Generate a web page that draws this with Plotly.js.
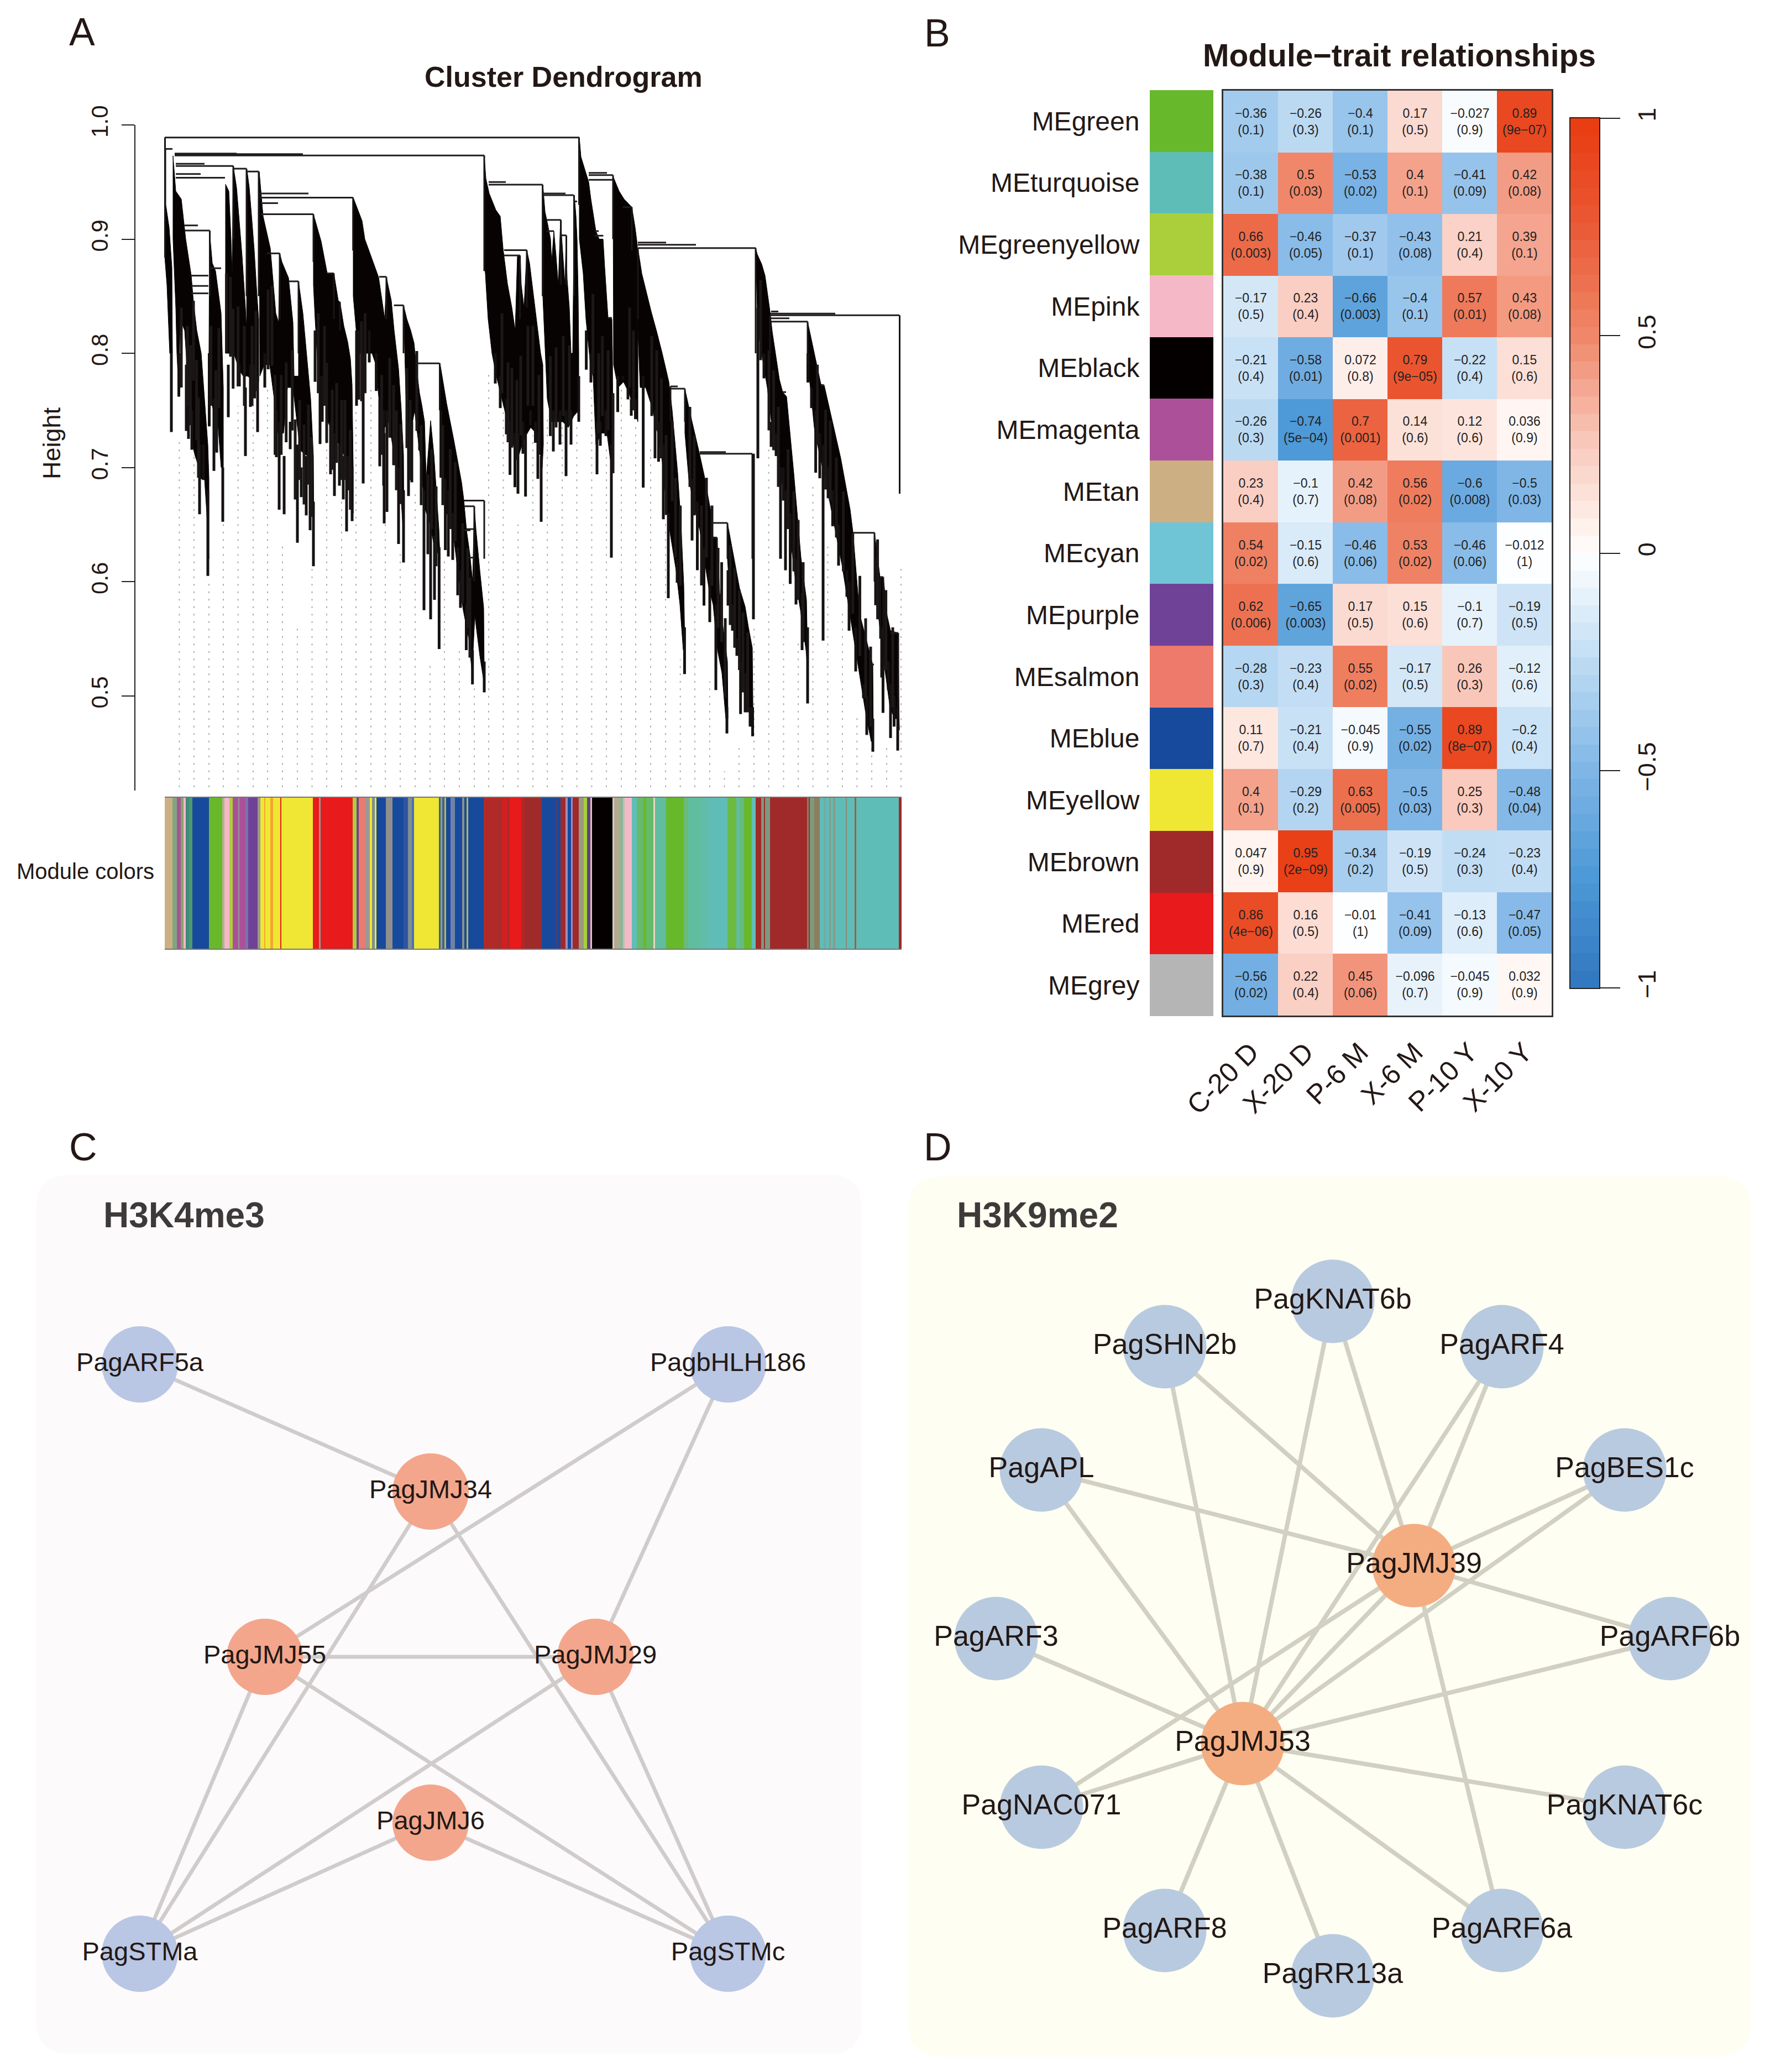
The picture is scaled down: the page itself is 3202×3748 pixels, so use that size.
<!DOCTYPE html>
<html><head><meta charset="utf-8">
<script src="https://cdn.plot.ly/plotly-3.0.1.min.js"></script>
<style>html,body{margin:0;padding:0;background:#fff}#chart{width:3202px;height:3748px}</style>
</head><body><div id="chart"></div>
<script>
const FONT='"Liberation Sans", Arial, sans-serif', INK='#231815';
// ---------- A: dendrogram (leaf rank, merge height)
const dendroWedges=[
[[0,.979],[2,.979],[2,.93],[8,.91],[13,.875],[14,.82],[14,.80],[9,.80],[4,.86],[0,.885]],
[[15,.973],[20,.942],[30,.935],[38,.90],[48,.868],[52,.845],[58,.82],[66,.80],[72,.76],[78,.72],[80,.69],[80,.62],[76,.66],[72,.69],[66,.69],[62,.70],[55,.71],[50,.72],[45,.77],[40,.79],[36,.82],[28,.83],[25,.77],[22,.80],[20,.84],[15,.90]],
[[81,.9075],[86,.879],[92,.872],[102,.835],[106,.77],[106,.70],[102,.70],[96,.74],[88,.75],[83,.76],[80,.80]],
[[110,.948],[116,.942],[120,.90],[122,.87],[124,.964],[130,.945],[135,.915],[140,.885],[146,.84],[148,.82],[149,.96],[153,.945],[158,.915],[162,.89],[167,.85],[170,.83],[170,.775],[162,.775],[150,.78],[142,.78],[135,.785],[125,.80],[115,.80],[110,.80]],
[[171,.959],[178,.92],[191,.892],[201,.835],[206,.827],[208,.8875],[212,.88],[224,.866],[232,.827],[234,.78],[242,.78],[242,.863],[250,.835],[255,.809],[260,.781],[264,.76],[269,.71],[270,.62],[266,.68],[258,.71],[245,.715],[237,.75],[232,.77],[222,.77],[215,.73],[205,.73],[198,.76],[190,.79],[180,.79],[172,.78]],
[[269,.9218],[283,.898],[294,.87],[306,.87],[314,.846],[317,.845],[324,.824],[331,.81],[336,.795],[339,.772],[341,.70],[341,.66],[335,.70],[325,.71],[315,.72],[305,.73],[295,.74],[288,.77],[278,.78],[272,.83],[269,.86]],
[[341,.9363],[357,.916],[362,.90],[375,.883],[387,.8665],[392,.85],[398,.83],[401,.8665],[410,.846],[415,.82],[423,.7865],[428,.75],[432,.711],[433,.63],[428,.67],[420,.70],[412,.72],[405,.74],[398,.735],[390,.745],[382,.79],[375,.80],[362,.80],[350,.80],[341,.85]],
[[432,.842],[438,.83],[445,.82],[451,.809],[456,.785],[461,.765],[465,.755],[470,.74],[473,.69],[481,.741],[487,.711],[493,.67],[496,.646],[498,.62],[494,.625],[488,.63],[480,.65],[470,.665],[462,.71],[452,.75],[445,.73],[438,.73]],
[[498,.7912],[510,.756],[523,.724],[537,.687],[541,.672],[546,.645],[552,.624],[557,.60],[560,.666],[563,.646],[570,.61],[577,.577],[578,.52],[578,.51],[570,.535],[561,.57],[556,.52],[550,.55],[540,.575],[530,.61],[520,.65],[510,.66],[503,.70],[498,.75]],
[[578,.9733],[581,.953],[587,.94],[594,.931],[599,.9255],[607,.92],[612,.892],[620,.861],[628,.84],[634,.82],[638,.885],[643,.8857],[645,.86],[650,.84],[655,.8903],[660,.879],[666,.855],[676,.8143],[680,.80],[684,.79],[685,.72],[683,.70],[680,.71],[672,.73],[662,.735],[650,.725],[640,.71],[630,.72],[620,.74],[610,.76],[600,.78],[592,.80],[585,.83],[580,.87],[578,.88]],
[[684,.9477],[688,.9237],[692,.915],[698,.90],[700,.88],[704,.907],[708,.885],[712,.86],[716,.9168],[720,.89],[724,.86],[726,.9],[728,.865],[732,.84],[735,.80],[738,.80],[741,.9385],[744,.92],[746,.90],[748,.85],[749,.80],[749,.75],[740,.745],[730,.735],[720,.74],[710,.74],[700,.74],[692,.76],[684,.85]],
[[750,.989],[753,.972],[760,.961],[767,.95],[771,.935],[776,.92],[780,.907],[786,.90],[793,.90],[796,.875],[802,.831],[809,.83],[810,.80],[811,.72],[808,.70],[800,.73],[790,.73],[780,.72],[775,.78],[770,.79],[762,.83],[757,.87],[750,.90]],
[[811,.955],[822,.942],[831,.935],[845,.928],[851,.91],[855,.895],[856,.80],[856,.74],[850,.75],[840,.765],[830,.775],[820,.77],[812,.79]],
[[856,.892],[863,.87],[880,.8366],[890,.819],[900,.80],[912,.775],[918,.75],[924,.715],[928,.695],[934,.65],[939,.597],[941,.54],[938,.54],[932,.58],[925,.61],[915,.64],[908,.665],[900,.705],[890,.735],[880,.755],[870,.77],[860,.77],[856,.82]],
[[941,.7688],[954,.74],[967,.713],[976,.693],[988,.661],[990,.651],[992,.638],[999,.6386],[1004,.59],[1010,.56],[1018,.53],[1019,.48],[1015,.48],[1008,.52],[1000,.54],[992,.58],[984,.595],[976,.62],[968,.645],[958,.665],[948,.69],[941,.73]],
[[1018,.6514],[1030,.62],[1040,.594],[1050,.578],[1056,.56],[1063,.542],[1064.5,.47],[1060,.48],[1052,.50],[1045,.51],[1038,.535],[1030,.56],[1022,.59],[1018,.62]],
[[1069,.8922],[1072,.8866],[1080,.878],[1086,.868],[1095,.8366],[1099,.819],[1112,.777],[1118,.766],[1125,.762],[1138,.695],[1151,.621],[1161,.584],[1163.5,.52],[1160,.54],[1150,.575],[1140,.605],[1130,.645],[1120,.675],[1110,.71],[1100,.73],[1090,.77],[1080,.80],[1073,.82]],
[[1163,.8277],[1175,.80],[1187,.773],[1193,.772],[1208,.74],[1223,.708],[1240,.663],[1245,.6435],[1257,.572],[1268,.551],[1281,.527],[1282,.46],[1278,.46],[1268,.485],[1255,.525],[1245,.555],[1235,.585],[1225,.615],[1215,.64],[1205,.665],[1195,.69],[1185,.71],[1175,.735],[1168,.77],[1163,.79]],
[[1284,.6428],[1290,.62],[1294,.604],[1300,.604],[1307,.57],[1313,.557],[1327,.555],[1328,.50],[1329,.47],[1328,.48],[1320,.48],[1312,.49],[1305,.515],[1298,.54],[1290,.575],[1284,.62]]
];
// leaf, height at top, height at tip
const dendroDrips=[[12,.80,.731],[25.5,.80,.762],[39,.79,.732],[43,.78,.725],[49,.75,.7155],[63,.72,.659],[70,.72,.689],[78,.68,.605],
[80.5,.80,.736],[89,.76,.697],[94,.76,.713],[105,.70,.6524],[115,.79,.744],[135,.79,.771],[146,.77,.71],[155,.79,.753],[162.5,.79,.7605],[168,.78,.731],
[181,.80,.77],[202,.75,.709],[207,.74,.663],[216,.71,.659],[227,.74,.716],[240,.72,.634],[247,.70,.674],[256,.71,.658],[263,.70,.645],[269,.67,.6135],
[272,.82,.775],[281,.78,.7205],[285,.78,.74],[300,.74,.694],[307,.73,.675],[316,.72,.684],[323,.71,.672],[329,.71,.644],[333.5,.71,.68],[339,.70,.653],
[347,.82,.754],[351,.82,.7594],[359,.80,.686],[370,.82,.792],[382.6,.80,.767],[389,.76,.701],[396,.75,.684],[397,.73,.651],[402,.75,.661],[407,.76,.743],[417,.73,.702],[423,.70,.633],[432,.68,.6167],
[441,.74,.675],[447,.74,.687],[461,.73,.715],[469,.68,.575],[481,.66,.567],[488,.64,.584],[496.4,.63,.541],
[499.6,.75,.691],[507.6,.69,.6276],[513,.68,.622],[521,.66,.619],[530,.63,.588],[535,.61,.577],[545.5,.58,.54],[556.7,.54,.51],[578,.53,.503],
[598,.80,.7735],[607,.78,.752],[618,.76,.729],[624.6,.74,.6935],[633.5,.73,.6827],[639,.73,.677],[648,.74,.712],[652.7,.73,.6745],[661.6,.75,.737],[670.5,.74,.7216],[675,.73,.69],[681,.71,.6524],
[703,.75,.714],[715,.75,.72],[726,.75,.6924],[735,.75,.72],[749,.78,.74],
[762.6,.82,.7856],[771,.80,.7744],[782,.74,.694],[788,.74,.719],[798,.75,.7275],[808,.72,.621],
[819.5,.78,.7485],[829,.78,.777],[838,.77,.7596],[844,.76,.7453],[851.5,.76,.7423],
[865.6,.78,.6823],[887,.75,.708],[893.4,.74,.705],[902,.72,.6546],[911,.66,.5855],[927,.62,.599],[940.4,.56,.519],
[954,.69,.636],[963.5,.67,.61],[975.5,.63,.579],[986,.61,.5645],[997,.58,.505],[1017,.49,.467],
[1019,.61,.579],[1027,.58,.557],[1035,.55,.535],[1041.7,.53,.484],[1050,.52,.4855],[1059,.49,.473],[1063.5,.49,.4645],[1065,.712,.567],
[1073,.84,.708],[1084,.80,.778],[1097,.74,.718],[1106,.73,.71],[1114,.70,.62],[1119,.70,.671],[1123,.68,.61],[1131.5,.66,.598],[1142,.62,.58],[1153,.59,.54],[1163,.56,.4933],
[1163.5,.80,.7744],[1170,.77,.752],[1177.6,.75,.6954],[1185,.73,.6905],[1191,.72,.5484],[1200,.70,.673],[1208.3,.68,.6485],[1219,.65,.614],[1234,.61,.5867],[1238,.60,.557],[1250,.56,.5213],[1264,.51,.498],[1270,.50,.4657],[1281,.48,.451],
[1286,.62,.5793],[1297,.56,.516],[1299.4,.55,.485],[1309,.53,.505],[1313,.51,.463],[1319.5,.50,.473],[1326,.49,.452]];
const dendroDripsFine=[[30,.82,.77],[41,.79,.754],[46.5,.77,.737],[52,.80,.776],[57.6,.74,.724],[61,.72,.691],[83.5,.78,.754],[92.4,.76,.715],[98,.78,.752],[111.6,.82,.80],[119,.82,.797],[123.7,.82,.769],[132.6,.80,.771],[144,.79,.754],[158,.79,.754],[165,.79,.767],[187,.80,.786],[194,.80,.789],[199.6,.76,.711],[210.7,.75,.711],[219.7,.76,.722],[230.8,.78,.7324],[236,.74,.672],[244,.72,.689],[252,.72,.6676],[260,.71,.685],[265.6,.69,.6567],[277.7,.80,.765],[289,.78,.754],[293,.76,.7216],[303,.74,.698],[311,.74,.704],[320,.73,.689],[326,.72,.689],[335.7,.71,.663],[356,.81,.758],[362.5,.81,.765],[392.4,.75,.711],[407,.75,.726],[414,.73,.702],[419,.71,.68],[427,.69,.668],[438,.74,.717],[444,.74,.689],[456,.76,.732],[464,.72,.667],[476,.67,.624],[483,.66,.646],[491,.64,.6135],[503,.71,.667],[516.5,.66,.646],[525.5,.66,.635],[539,.60,.581],[548,.58,.5595],[552,.56,.5335],[610,.77,.765],[621,.75,.722],[628,.74,.7173],[637,.72,.7065],[644,.74,.728],[657,.74,.754],[666,.74,.754],[677,.72,.711],[697.6,.76,.7275],[708,.75,.735],[721,.75,.745],[732,.75,.737],[774.6,.80,.782],[785,.74,.73],[791.7,.74,.745],[802,.74,.7325],[811,.72,.695],[841,.78,.77],[848,.77,.75],[881,.76,.745],[890,.74,.7325],[898.5,.72,.708],[907,.67,.6584],[918,.65,.6707],[924,.62,.621],[932.7,.60,.5966],[950,.70,.683],[958,.67,.658],[971,.64,.5966],[980,.60,.621],[990,.59,.5966],[1001,.55,.5596],[1007.5,.53,.547],[1014,.50,.498],[1023,.58,.562],[1031,.56,.542],[1039.6,.53,.5225],[1046,.51,.503],[1054.5,.50,.4855],[1078,.81,.794],[1093,.76,.7325],[1101.5,.73,.715],[1110,.71,.683],[1127.5,.66,.646],[1138,.62,.609],[1146,.59,.584],[1155,.56,.547],[1180.6,.73,.72],[1195.6,.69,.6806],[1204,.67,.671],[1215,.64,.6386],[1227.6,.61,.609],[1244.7,.56,.572],[1257.5,.52,.535],[1268,.49,.4978],[1277,.47,.473],[1289.6,.58,.567],[1304.6,.52,.5225],[1317,.49,.49]];
const dendroStems=[[.5,.989,.884],[578,.9733,.872],[81.5,.9075,.85],[269,.9218,.88],[340.7,.9363,.89],[749.5,.989,.93],[124,.964,.9],[148,.9617,.85],[170,.9592,.85],[208,.8875,.83],[242,.863,.80],[306,.87,.83],[317,.845,.82],[401,.867,.83],[432,.842,.80],[497.5,.7912,.75],[578,.671,.62],[560,.666,.6],[655,.8903,.84],[642.7,.8857,.83],[683.6,.9477,.85],[716.7,.9168,.86],[726.5,.9033,.86],[740.5,.9385,.85],[811,.956,.90],[845,.928,.89],[856,.8922,.83],[1069,.8922,.80],[1063,.712,.62],[1095,.8333,.80],[1163,.8277,.79],[941,.769,.74],[915,.771,.74],[990,.651,.62],[999,.6386,.59],[1018,.6514,.62],[1245,.6428,.6],[1284,.6428,.6],[1294,.604,.55],[1300,.604,.55],[1327,.555,.48],[1329.5,.8333,.677]];
// from leaf, to leaf, merge height
const dendroMerges=[[0,750,.989],[0,14,.979],[18,578,.9733],[18,130,.975],[18,250,.9745],[20,72,.966],[20,124,.964],[20,109,.9537],[20,65,.957],[124,148,.9617],[149,170,.9592],[171,260,.94],[171,340.7,.9363],[174,269,.9218],[174,205,.9315],[36,81.5,.9075],[36,60,.912],[48,79,.868],[48,79,.859],[48,79,.8525],[82,102,.8745],[185,208,.8875],[224,242,.863],[294,306,.87],[388,401,.867],[414.6,432,.842],[454,497.3,.7912],[541,578,.671],[541,560,.666],[541,553,.645],[546,559,.646],[546,558,.621],[586,683.6,.9477],[586,617,.95],[614,655,.8903],[614,642.7,.8857],[684,740,.9385],[684,725,.94],[691,716.7,.9168],[691,704,.907],[717,726.5,.9033],[740,746,.933],[767,811,.956],[767,800,.958],[767,811,.952],[829,845,.928],[778,785,.907],[778,793.5,.903],[802,809,.831],[856,1069,.8922],[856,961,.895],[856,907,.897],[915,941,.769],[915,928,.771],[1095,1329,.8333],[1095,1213,.8347],[1097,1163,.8277],[1097,1130,.8306],[1097,1110,.8366],[968,1063,.712],[968,1015,.7135],[990,1018,.6514],[992,999,.6386],[1245,1284,.6428],[1118,1124,.766],[1187,1193,.772],[1294,1300,.604],[1313,1327,.555],[1279,1283,.5274]];
const guideLeaf=[26.4,53,80,106,132.6,160,186,213,240,266.5,293,320,346,373,399,426,453,480,506,533,560,586,612.5,639,666,692,719,745.5,772.4,799,826,852,879,906,932.7,959,986,1012.6,1039,1066,1092.6,1119.5,1146,1172.5,1199.4,1226,1252.4,1279,1306,1332];
const guideTop=[.724,.724,.603,.652,.754,.756,.769,.631,.562,.613,.7216,.67,.75,.771,.661,.624,.678,.531,.618,.544,.51,.784,.78,.65,.728,.745,.74,.737,.772,.718,.774,.737,.72,.651,.532,.6065,.5126,.434,.456,.562,.72,.6,.55,.684,.634,.574,.485,.458,.458,.614];
const moduleHex={tan:'#ccb083',magenta:'#ac5199',purple:'#6f4297',greenyellow:'#aacf3b',pink:'#f4b8c7',black:'#040000',blue:'#174a9c',yellow:'#efe733',red:'#e81a1c',brown:'#a02a2a',green:'#68b82c',turquoise:'#5fbdb8',grey:'#b5b5b5',cyan:'#6fc5d6',salmon:'#ee7a6b'};
const stripEnds=[14.7,21.8,28.9,34,38.1,44.2,49.9,80.5,104.4,108.5,117.7,122.8,133,135,146.3,151.4,168.2,173.3,180,182,191.2,196.3,209,211.6,268.7,278.9,282,340.2,347.3,351.4,362.1,371.3,374.9,380,383,400.4,412.6,432,440.2,447.3,451.4,496.3,499.3,502.4,506.5,509.5,517.7,524.9,538.1,542.2,546.3,549.3,576.9,602.4,610.6,619.8,623.8,645.3,651.4,682.5,709,710.6,716.7,724.9,729,735.1,738.2,749.3,758.5,764.7,769.8,772.8,810,813.6,823.4,828.8,832.4,844.9,853.8,866.3,870.8,884.1,886.8,907.3,939.5,947.5,969.8,984.1,1018.1,1034.6,1040.4,1048,1062.7,1068.9,1079.2,1084.1,1085.9,1095.7,1161.8,1165.4,1167.2,1175.2,1185,1192.1,1196.6,1202,1205.6,1209.1,1213.6,1232.3,1234.1,1248.4,1251.1,1327.9,1333];
const stripColors=['tan','#7fa77f','magenta','#82a86a','pink','#3f8a7a','#4f9a6a','blue','green','#b5b08f','pink','greenyellow','magenta','#999999','magenta','#7a72b0','purple','#9a9a8a','yellow','#f5a530','yellow','#f5a530','yellow','red','yellow','red','#999999','red','greenyellow','purple','salmon','#999999','yellow','#7f8f90','yellow','blue','#8f8f8f','blue','#2f55a0','#7f8f90','#4a70b8','yellow','#3a62a8','#a0a050','#3a62a8','#c0b840','blue','#6f82a8','blue','#8a8f90','blue','#c0b840','blue','#b22a28','#a82c2c','#d01f20','#b02828','red','#b02828','brown','blue','brown','blue','brown','#a08ac0','blue','#a08ac0','brown','#999a80','greenyellow','#55497a','pink','black','#cfcfc0','#b3ab8f','#8fb59a','#c0c0b0','pink','turquoise','#65bb6a','green','#65bb6a','#ecd5c5','#62bca0','green','#69bb78','#60bda0','#62bcaa','turquoise','#6cba40','#60bda0','#65bb80','green','turquoise','brown','#7d9a80','brown','#7d9a80','brown','#8c7e5f','brown','#7d9a80','#8c7e5f','turquoise','#78a8a0','turquoise','#8c9a88','turquoise','#8c9a88','turquoise','#8c8a78','turquoise','#a0603f','turquoise','brown'];
const heightTicks=[.5,.6,.7,.8,.9,1], heightLabels=['0.5','0.6','0.7','0.8','0.9','1.0'];
// ---------- B: module-trait
const moduleNames=['green','turquoise','greenyellow','pink','black','magenta','tan','cyan','purple','salmon','blue','yellow','brown','red','grey'];
const traitNames=['C-20 D','X-20 D','P-6 M','X-6 M','P-10 Y','X-10 Y'];
const corrValues=[
['-0.36','-0.26','-0.4','0.17','-0.027','0.89'],['-0.38','0.5','-0.53','0.4','-0.41','0.42'],['0.66','-0.46','-0.37','-0.43','0.21','0.39'],
['-0.17','0.23','-0.66','-0.4','0.57','0.43'],['-0.21','-0.58','0.072','0.79','-0.22','0.15'],['-0.26','-0.74','0.7','0.14','0.12','0.036'],
['0.23','-0.1','0.42','0.56','-0.6','-0.5'],['0.54','-0.15','-0.46','0.53','-0.46','-0.012'],['0.62','-0.65','0.17','0.15','-0.1','-0.19'],
['-0.28','-0.23','0.55','-0.17','0.26','-0.12'],['0.11','-0.21','-0.045','-0.55','0.89','-0.2'],['0.4','-0.29','0.63','-0.5','0.25','-0.48'],
['0.047','0.95','-0.34','-0.19','-0.24','-0.23'],['0.86','0.16','-0.01','-0.41','-0.13','-0.47'],['-0.56','0.22','0.45','-0.096','-0.045','0.032']];
const pValues=[
['0.1','0.3','0.1','0.5','0.9','9e-07'],['0.1','0.03','0.02','0.1','0.09','0.08'],['0.003','0.05','0.1','0.08','0.4','0.1'],
['0.5','0.4','0.003','0.1','0.01','0.08'],['0.4','0.01','0.8','9e-05','0.4','0.6'],['0.3','5e-04','0.001','0.6','0.6','0.9'],
['0.4','0.7','0.08','0.02','0.008','0.03'],['0.02','0.6','0.06','0.02','0.06','1'],['0.006','0.003','0.5','0.6','0.7','0.5'],
['0.3','0.4','0.02','0.5','0.3','0.6'],['0.7','0.4','0.9','0.02','8e-07','0.4'],['0.1','0.2','0.005','0.03','0.3','0.04'],
['0.9','2e-09','0.2','0.5','0.3','0.4'],['4e-06','0.5','1','0.09','0.6','0.05'],['0.02','0.4','0.06','0.7','0.9','0.9']];
const corrLevels=[-.98,-.94,-.9,-.86,-.82,-.78,-.74,-.7,-.66,-.62,-.58,-.54,-.5,-.46,-.42,-.38,-.34,-.3,-.26,-.22,-.18,-.14,-.1,-.06,-.02,.02,.06,.1,.14,.18,.22,.26,.3,.34,.38,.42,.46,.5,.54,.58,.62,.66,.7,.74,.78,.82,.86,.9,.94,.98];
const corrScale=[[0,'#3076c0'],[.125,'#4c98d6'],[.25,'#7fb6e6'],[.375,'#bedbf3'],[.475,'#f3f9fe'],[.5,'#ffffff'],[.525,'#fff3ee'],[.625,'#f9cabd'],[.75,'#f0876a'],[.875,'#ea5a35'],[1,'#e93a10']];
const barTicks=[-1,-.5,0,.5,1], barLabels=['−1','−0.5','0','0.5','1'];
// ---------- C / D: networks
const cNames=['PagARF5a','PagbHLH186','PagJMJ34','PagJMJ55','PagJMJ29','PagJMJ6','PagSTMa','PagSTMc'];
const cX=[187,1251,713,413,1011,713,187,1251], cY=[343,343,573,872,872,1172,1409,1409];
const cHubs=['PagJMJ34','PagJMJ55','PagJMJ29','PagJMJ6'];
const cEdges=[['PagARF5a','PagJMJ34'],['PagbHLH186','PagJMJ55'],['PagbHLH186','PagJMJ29'],['PagJMJ34','PagSTMa'],['PagJMJ34','PagSTMc'],['PagJMJ55','PagJMJ29'],['PagJMJ55','PagSTMa'],['PagJMJ55','PagSTMc'],['PagJMJ29','PagSTMa'],['PagJMJ29','PagSTMc'],['PagJMJ6','PagSTMa'],['PagJMJ6','PagSTMc']];
const dNames=['PagKNAT6b','PagSHN2b','PagARF4','PagAPL','PagBES1c','PagJMJ39','PagARF3','PagARF6b','PagJMJ53','PagNAC071','PagKNAT6c','PagARF8','PagARF6a','PagRR13a'];
const dX=[768,464,1074,241,1296,915,159,1378,605,241,1296,464,1074,768], dY=[226,308,308,531,531,704,836,836,1026,1141,1141,1364,1364,1446];
const dHubs=['PagJMJ39','PagJMJ53'];
const dEdges=[['PagJMJ53','PagSHN2b'],['PagJMJ53','PagKNAT6b'],['PagJMJ53','PagARF4'],['PagJMJ53','PagAPL'],['PagJMJ53','PagBES1c'],['PagJMJ53','PagJMJ39'],['PagJMJ53','PagARF3'],['PagJMJ53','PagARF6b'],['PagJMJ53','PagNAC071'],['PagJMJ53','PagKNAT6c'],['PagJMJ53','PagARF8'],['PagJMJ53','PagRR13a'],['PagJMJ53','PagARF6a'],['PagJMJ39','PagSHN2b'],['PagJMJ39','PagKNAT6b'],['PagJMJ39','PagARF4'],['PagJMJ39','PagAPL'],['PagJMJ39','PagBES1c'],['PagJMJ39','PagARF6b'],['PagJMJ39','PagNAC071'],['PagJMJ39','PagARF6a']];

const W=3202,H=3748;
const domX=(a,b)=>[a/W,b/W], domY=(a,b)=>[1-b/H,1-a/H];
const hide={visible:false,fixedrange:true};
const data=[];
const gx=[],gy=[];guideLeaf.forEach((l,i)=>{gx.push(l,l,null);gy.push(.42,guideTop[i],null)});
data.push({type:'scatter',mode:'lines',x:gx,y:gy,xaxis:'x',yaxis:'y',line:{color:'#a8a8a8',width:2,dash:'3px,10.5px'},hoverinfo:'skip'});
dendroWedges.forEach(w=>data.push({type:'scatter',mode:'lines',x:w.map(p=>p[0]).concat(w[0][0]),y:w.map(p=>p[1]).concat(w[0][1]),fill:'toself',fillcolor:'#070303',line:{color:'#070303',width:1},xaxis:'x',yaxis:'y',hoverinfo:'skip'}));
const seg=(list,w,c)=>{const x=[],y=[];list.forEach(d=>{x.push(d[0],d[0],null);y.push(d[1],Math.min(d[1],d[2]),null)});data.push({type:'scatter',mode:'lines',x,y,line:{color:c,width:w},xaxis:'x',yaxis:'y',hoverinfo:'skip'})};
seg(dendroDrips,5,'#151111');
seg(dendroDripsFine.map(d=>[d[0],Math.max(d[1],d[2]+.07),d[2]]),5,'#1c1818');
seg(dendroStems,3,'#1a1616');
const mx=[],my=[];dendroMerges.forEach(m=>{mx.push(m[0],m[1],null);my.push(m[2],m[2],null)});
data.push({type:'scatter',mode:'lines',x:mx,y:my,line:{color:'#221e1e',width:3},xaxis:'x',yaxis:'y',hoverinfo:'skip'});
const stripStart=[0].concat(stripEnds.slice(0,-1));
data.push({type:'bar',x:stripEnds.map((e,i)=>(e+stripStart[i])/2),width:stripEnds.map((e,i)=>e-stripStart[i]+.6),y:stripEnds.map(()=>1),marker:{color:stripColors.map(c=>moduleHex[c]||c),line:{width:0}},xaxis:'x2',yaxis:'y2',hoverinfo:'skip'});
const rowNames=moduleNames.map(m=>'ME'+m);
data.push({type:'bar',orientation:'h',y:rowNames,x:moduleNames.map(()=>1),width:moduleNames.map(()=>1),marker:{color:moduleNames.map(m=>moduleHex[m]),line:{width:0}},xaxis:'x3',yaxis:'y3',hoverinfo:'skip'});
const fix=s=>s.replace(/-/g,'−');
data.push({type:'heatmap',x:traitNames,y:rowNames,z:corrValues.map(r=>r.map(Number)),zmin:-1,zmax:1,colorscale:corrScale,showscale:false,
 text:corrValues.map((r,i)=>r.map((v,j)=>fix(v)+'<br>('+fix(pValues[i][j])+')')),texttemplate:'%{text}',textfont:{family:FONT,size:23,color:'#222222'},xaxis:'x4',yaxis:'y4',hoverinfo:'skip'});
data.push({type:'heatmap',x:[0],y:corrLevels,z:corrLevels.map(v=>[v]),zmin:-1,zmax:1,colorscale:corrScale,showscale:false,xaxis:'x5',yaxis:'y5',hoverinfo:'skip'});
function net(names,X,Y,edges,hubs,xa,ya,edgeColor,edgeW,hubColor,leafColor,size,fs){
 const ex=[],ey=[];edges.forEach(e=>{const a=names.indexOf(e[0]),b=names.indexOf(e[1]);ex.push(X[a],X[b],null);ey.push(Y[a],Y[b],null)});
 data.push({type:'scatter',mode:'lines',x:ex,y:ey,line:{color:edgeColor,width:edgeW},xaxis:xa,yaxis:ya,hoverinfo:'skip'});
 data.push({type:'scatter',mode:'markers+text',x:X,y:Y,text:names,textposition:'middle center',textfont:{family:FONT,size:fs,color:INK},cliponaxis:false,
  marker:{size,color:names.map(n=>hubs.includes(n)?hubColor:leafColor),line:{width:0}},xaxis:xa,yaxis:ya,hoverinfo:'skip'});
}
net(cNames,cX,cY,cEdges,cHubs,'x6','y6','#d1cccc',7,'#f3a68b','#b9c6e4',138,47);
net(dNames,dX,dY,dEdges,dHubs,'x7','y7','#d2d0c2',8,'#f4ad81','#b8cadf',151,52);

const ann=(text,x,y,size,opts)=>Object.assign({text,x:x/W,y:1-y/H,xref:'paper',yref:'paper',showarrow:false,xanchor:'center',yanchor:'middle',font:{family:FONT,size,color:INK}},opts||{});
const rr=(x0,y0,x1,y1,r,fill)=>{const X=v=>(v/W).toFixed(5),Y=v=>(1-v/H).toFixed(5);
 return {type:'path',xref:'paper',yref:'paper',layer:'below',fillcolor:fill,line:{width:0},
 path:`M${X(x0+r)},${Y(y0)}L${X(x1-r)},${Y(y0)}Q${X(x1)},${Y(y0)} ${X(x1)},${Y(y0+r)}L${X(x1)},${Y(y1-r)}Q${X(x1)},${Y(y1)} ${X(x1-r)},${Y(y1)}L${X(x0+r)},${Y(y1)}Q${X(x0)},${Y(y1)} ${X(x0)},${Y(y1-r)}L${X(x0)},${Y(y0+r)}Q${X(x0)},${Y(y0)} ${X(x0+r)},${Y(y0)}Z`}};
const layout={width:W,height:H,margin:{l:0,r:0,t:0,b:0},showlegend:false,paper_bgcolor:'#ffffff',plot_bgcolor:'rgba(0,0,0,0)',barmode:'overlay',bargap:0,font:{family:FONT,color:INK},
 xaxis:Object.assign({},hide,{domain:domX(245,1635),range:[-53,1337],anchor:'y'}),
 yaxis:{domain:domY(226,1430),range:[.417,1.0],anchor:'x',fixedrange:true,showline:true,linecolor:'#222',linewidth:2,ticks:'outside',ticklen:23,tickwidth:2,tickcolor:'#222',tickvals:heightTicks,ticktext:heightLabels,tickangle:-90,tickfont:{size:42,color:INK},showgrid:false,zeroline:false,ticklabelstandoff:8},
 xaxis2:{domain:domX(298,1631),range:[0,1333],anchor:'y2',fixedrange:true,showline:true,mirror:'all',linecolor:'#777',linewidth:2,ticks:'',showticklabels:false,showgrid:false,zeroline:false},
 yaxis2:Object.assign({},hide,{domain:domY(1443,1716),range:[0,1],anchor:'x2'}),
 xaxis3:Object.assign({},hide,{domain:domX(2080,2195),range:[0,1],anchor:'y3'}),
 yaxis3:{domain:domY(163,1838),type:'category',categoryorder:'array',categoryarray:rowNames,autorange:'reversed',anchor:'x3',fixedrange:true,showline:false,showgrid:false,zeroline:false,ticks:'outside',ticklen:8,tickcolor:'rgba(0,0,0,0)',tickfont:{size:48,color:INK}},
 xaxis4:{domain:domX(2213,2807),type:'category',categoryorder:'array',categoryarray:traitNames,anchor:'y4',fixedrange:true,showline:true,mirror:true,linecolor:'#333',linewidth:3,showgrid:false,zeroline:false,ticks:'outside',ticklen:14,tickcolor:'rgba(0,0,0,0)',tickangle:-45,tickfont:{size:50,color:INK}},
 yaxis4:{domain:domY(164,1837),type:'category',categoryorder:'array',categoryarray:rowNames,autorange:'reversed',anchor:'x4',fixedrange:true,showline:true,mirror:true,linecolor:'#333',linewidth:3,showgrid:false,zeroline:false,showticklabels:false,ticks:''},
 xaxis5:{domain:domX(2841,2893),anchor:'y5',fixedrange:true,showline:true,mirror:true,linecolor:'#222',linewidth:2,showticklabels:false,ticks:'',showgrid:false,zeroline:false},
 yaxis5:{domain:domY(214,1787),range:[-1,1],anchor:'x5',side:'right',fixedrange:true,showline:true,mirror:true,linecolor:'#222',linewidth:2,ticks:'outside',ticklen:36,tickwidth:2,tickcolor:'#222',tickvals:barTicks,ticktext:barLabels,tickangle:-90,tickfont:{size:45,color:INK},showgrid:false,zeroline:false,ticklabelstandoff:10},
 xaxis6:Object.assign({},hide,{domain:domX(66,1559),range:[0,1493],anchor:'y6'}),
 yaxis6:Object.assign({},hide,{domain:domY(2125,3715),range:[1590,0],anchor:'x6'}),
 xaxis7:Object.assign({},hide,{domain:domX(1643,3168),range:[0,1525],anchor:'y7'}),
 yaxis7:Object.assign({},hide,{domain:domY(2128,3720),range:[1592,0],anchor:'x7'}),
 shapes:[rr(66,2125,1559,3715,60,'#fcfafb'),rr(1643,2128,3168,3720,60,'#fefef2')],
 annotations:[
  ann('A',148,58,70),ann('B',1695,60,70),ann('C',150,2075,70),ann('D',1696,2075,70),
  ann('<b>Cluster Dendrogram</b>',1019,139,52),
  ann('<b>Module−trait relationships</b>',2531,100,57),
  ann('Height',94,802,45,{textangle:-90}),
  ann('Module colors',281,1576,40,{xanchor:'right'}),
  ann('<b>H3K4me3</b>',185,2198,64,{xanchor:'left',font:{family:FONT,size:64,color:'#3e3a39'}}),
  ann('<b>H3K9me2</b>',1729,2198,64,{xanchor:'left',font:{family:FONT,size:64,color:'#3e3a39'}})
 ]};
Plotly.newPlot('chart',data,layout,{displayModeBar:false,staticPlot:true});
</script></body></html>
